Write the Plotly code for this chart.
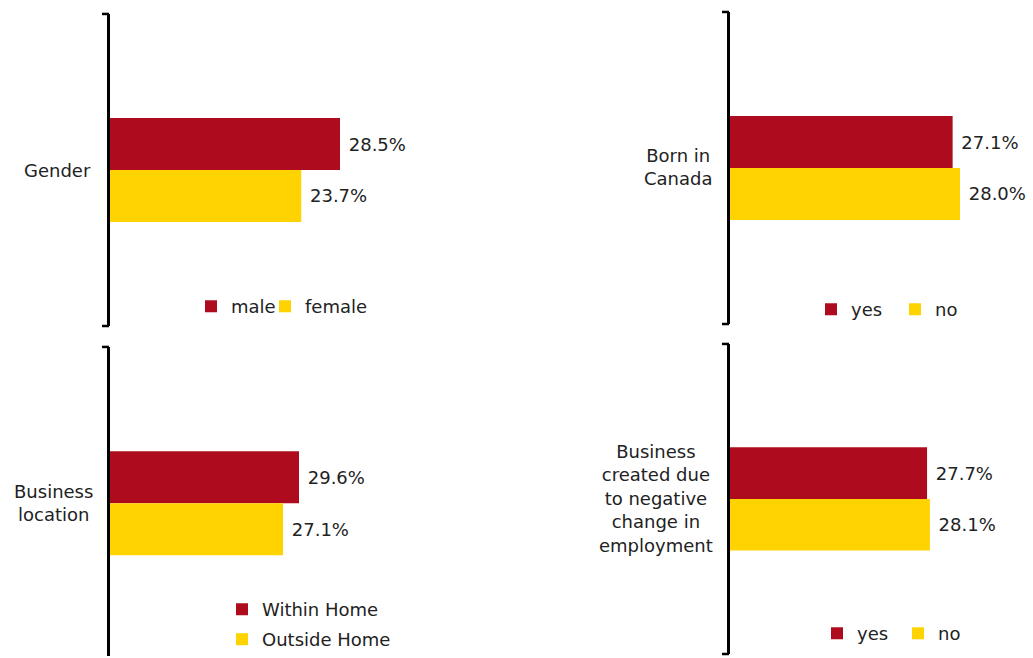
import plotly.graph_objects as go

# ---------------- data ----------------
panel_labels = ["Gender", "Born in<br>Canada", "Business<br>location",
                "Business<br>created due<br>to negative<br>change in<br>employment"]
first_names = ["male", "yes", "Within Home", "yes"]
second_names = ["female", "no", "Outside Home", "no"]
first_values = [28.5, 27.1, 29.6, 27.7]
second_values = [23.7, 28.0, 27.1, 28.1]

RED = "#AE0C1E"
YELLOW = "#FFD300"
TXT = "#222222"
FONT = "DejaVu Sans"
W, H = 1033, 658

def px(x):
    return x / W

def py(y):
    return 1 - y / H

# layout per panel (pixel geometry)
panels = [
    dict(x0=110, scale=8.07, top=14, bottom=327, yrange=[0.5, -0.5],
         lab=dict(x=93, y=170.7, anchor="right"),
         leg=[(209, 307.5), (283, 307.5)], bottom_tick=True),
    dict(x0=730, scale=8.215, top=12, bottom=325, yrange=[0.5, -0.5],
         lab=dict(x=678, y=168, anchor="center"),
         leg=[(829, 310.5), (913, 310.5)], bottom_tick=True),
    dict(x0=110, scale=6.385, top=348, bottom=658, yrange=[0.4885, -0.5],
         lab=dict(x=53.5, y=505, anchor="center"),
         leg=[(240, 611.5), (240, 641.5)], bottom_tick=False),
    dict(x0=730, scale=7.114, top=345, bottom=656, yrange=[0.5, -0.5],
         lab=dict(x=655.7, y=500.5, anchor="center"),
         leg=[(835, 635.5), (916, 635.5)], bottom_tick=True),
]
XMAX = 30

fig = go.Figure()
layout = dict(
    width=W, height=H,
    margin=dict(l=0, r=0, t=0, b=0),
    paper_bgcolor="white", plot_bgcolor="white",
    barmode="group", bargap=0.667, bargroupgap=0,
    font=dict(family=FONT, size=18, color=TXT),
    hovermode=False,
)
shapes = []
annotations = []

for i, p in enumerate(panels):
    n = i + 1
    xa = "x" if n == 1 else f"x{n}"
    ya = "y" if n == 1 else f"y{n}"
    xkey = "xaxis" if n == 1 else f"xaxis{n}"
    ykey = "yaxis" if n == 1 else f"yaxis{n}"
    cat = panel_labels[i]
    l1 = f"legend{2*i+1}" if 2*i+1 > 1 else "legend"
    l2 = f"legend{2*i+2}"
    for name, val, col, lg in [(first_names[i], first_values[i], RED, l1),
                               (second_names[i], second_values[i], YELLOW, l2)]:
        fig.add_trace(go.Bar(
            x=[val], y=[cat], orientation="h", name=name,
            marker=dict(color=col, line=dict(width=0)),
            text=[f" {val:.1f}%"], textposition="outside",
            textfont=dict(family=FONT, size=18, color=TXT),
            constraintext="none", cliponaxis=False,
            xaxis=xa, yaxis=ya, legend=lg, showlegend=True,
        ))
    for (lx, ly), lg in zip(p["leg"], [l1, l2]):
        layout[lg] = dict(
            x=px(lx - 18), y=py(ly), xanchor="left", yanchor="middle",
            bgcolor="rgba(0,0,0,0)", borderwidth=0,
            font=dict(family=FONT, size=18, color=TXT),
        )
    layout[xkey] = dict(
        domain=[px(p["x0"]), px(p["x0"] + XMAX * p["scale"])],
        range=[0, XMAX], visible=False, anchor=ya, fixedrange=True,
    )
    layout[ykey] = dict(
        domain=[py(p["bottom"]), py(p["top"])],
        range=p["yrange"], type="category", anchor=xa,
        showline=True, linecolor="black", linewidth=2.5,
        showticklabels=False, ticks="", showgrid=False, zeroline=False,
        fixedrange=True,
    )
    ends = [p["top"], p["bottom"]] if p["bottom_tick"] else [p["top"]]
    for yy in ends:
        shapes.append(dict(
            type="line", xref="paper", yref="paper",
            x0=px(p["x0"] - 8), x1=px(p["x0"] - 1),
            y0=py(yy), y1=py(yy), line=dict(color="black", width=2.5),
        ))
    lab = p["lab"]
    annotations.append(dict(
        text=cat, xref="paper", yref="paper",
        x=px(lab["x"]), y=py(lab["y"]),
        xanchor=lab["anchor"], yanchor="middle", align="center",
        showarrow=False, font=dict(family=FONT, size=18, color=TXT),
    ))

layout["shapes"] = shapes
layout["annotations"] = annotations
fig.update_layout(**layout)

fig.write_html("out.html", config={"displayModeBar": False},
               post_script="document.body.style.margin='0';")
